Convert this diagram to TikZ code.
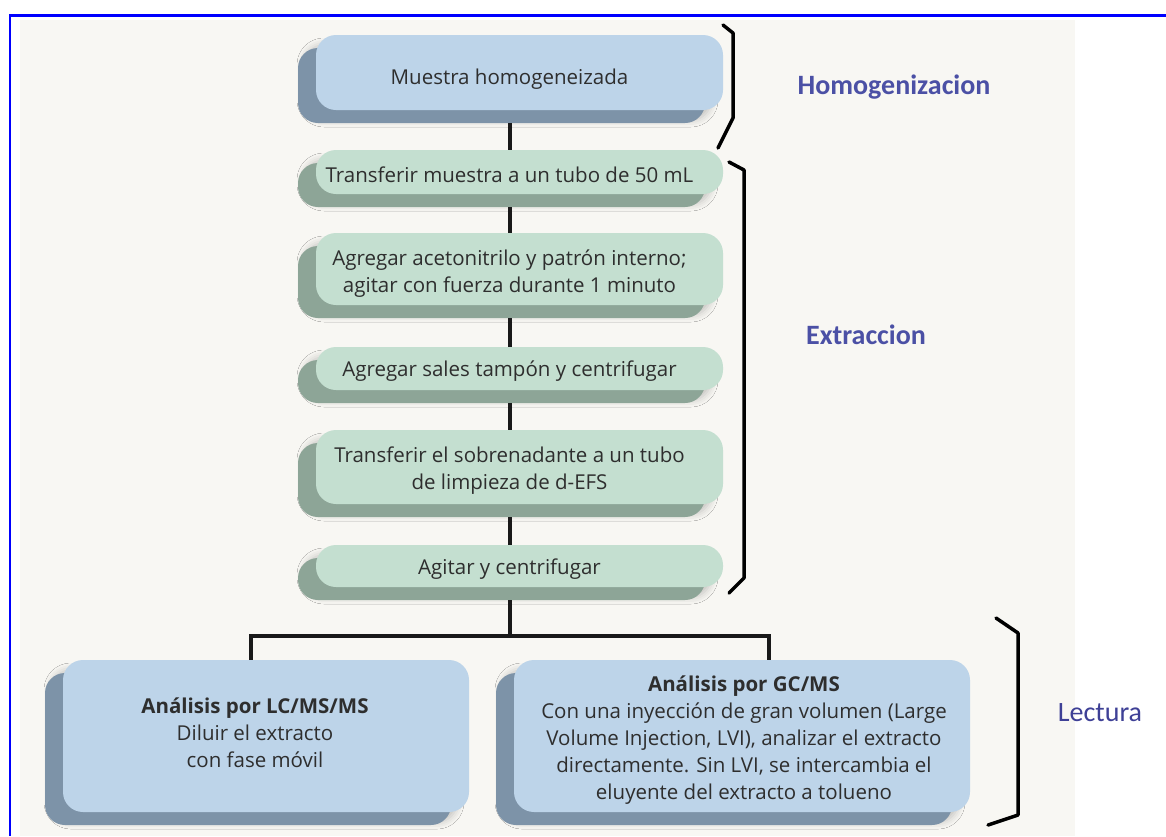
\documentclass[tikz,border=0pt]{standalone}
\usepackage{fontspec}
\setmainfont{Open Sans}
\newfontfamily\labfont{Carlito}
\usetikzlibrary{shadows,shadows.blur}
\definecolor{frameblue}{RGB}{0,0,255}
\definecolor{bgcream}{RGB}{248,247,243}
\definecolor{bluefc}{RGB}{189,212,233}
\definecolor{bluesh}{RGB}{125,147,168}
\definecolor{greenfc}{RGB}{196,223,208}
\definecolor{greensh}{RGB}{141,165,151}
\definecolor{txtgray}{RGB}{46,46,46}
\definecolor{labblue}{RGB}{75,80,165}
\definecolor{labblue2}{RGB}{62,64,150}
\tikzset{
  stepbox/.style={rounded corners=20pt, inner sep=0pt, fill=#1fc, draw=none,
    blur shadow={shadow xshift=-12pt, shadow yshift=-10pt, shadow blur radius=7pt, shadow opacity=22},
    copy shadow={shadow xshift=-18pt, shadow yshift=-13pt, fill=#1sh, draw=none, opacity=1}},
  boxtext/.style={align=center, text=txtgray, font=\fontsize{20.5}{27}\selectfont, inner sep=0pt},
  link/.style={line width=3.5pt, draw=black!90},
  handbrace/.style={line width=3.5pt, draw=black, line join=round, line cap=round},
  phase/.style={text=labblue, font=\labfont\bfseries\fontsize{28}{32}\selectfont, inner sep=0pt}
}
\begin{document}
\begin{tikzpicture}[x=1pt, y=-1pt]
\useasboundingbox (0,0) rectangle (1166,836);
\fill[white] (0,0) rectangle (1166,836);
\fill[bgcream] (20,20) rectangle (1075,836);
\draw[frameblue, line width=2.5pt] (10,836) -- (10,15.5) -- (1166,15.5);

% steps
\node[stepbox=blue,  minimum width=407pt, minimum height=75pt,
  label={[boxtext, name=t1, xshift=-10pt, yshift=-7pt]center:Muestra homogeneizada}] (b1) at (519.5,72.5) {};
\node[stepbox=green, minimum width=407pt, minimum height=44pt,
  label={[boxtext, name=t2, xshift=-10pt, yshift=-2.5pt]center:Transferir muestra a un tubo de 50 mL}] (b2) at (519.5,172) {};
\node[stepbox=green, minimum width=407pt, minimum height=72pt,
  label={[boxtext, name=t3, xshift=-10pt, yshift=-5pt]center:{Agregar acetonitrilo y patrón interno;\\agitar con fuerza durante 1 minuto}}] (b3) at (519.5,269) {};
\node[stepbox=green, minimum width=407pt, minimum height=43pt,
  label={[boxtext, name=t4, xshift=-10pt, yshift=-3pt]center:Agregar sales tampón y centrifugar}] (b4) at (519.5,368.5) {};
\node[stepbox=green, minimum width=407pt, minimum height=74pt,
  label={[boxtext, name=t5, xshift=-10pt, yshift=-4pt]center:{Transferir el sobrenadante a un tubo\\de limpieza de d-EFS}}] (b5) at (519.5,467) {};
\node[stepbox=green, minimum width=407pt, minimum height=42pt,
  label={[boxtext, name=t6, xshift=-10pt, yshift=-3pt]center:Agitar y centrifugar}] (b6) at (519.5,566) {};
\node[stepbox=blue,  minimum width=406pt, minimum height=152pt,
  label={[boxtext, name=t7, xshift=-11pt, yshift=3pt]center:{{\bfseries Análisis por LC/MS/MS}\\Diluir el extracto\\con fase móvil}}] (b7) at (266,736) {};
\node[stepbox=blue,  minimum width=456pt, minimum height=152pt,
  label={[boxtext, name=t8, xshift=2pt, yshift=-4pt]center:{{\bfseries Análisis por GC/MS}\\Con una inyección de gran volumen (Large\\Volume Injection, LVI), analizar el extracto\\directamente. Sin LVI, se intercambia el\\eluyente del extracto a tolueno}}] (b8) at (742,736) {};

% connectors
\coordinate (cx) at (510,0);
\coordinate (c7) at (251,0);
\coordinate (c8) at (769,0);
\coordinate (j) at (510,636);
\draw[link] ([yshift=-13pt]b1.south -| cx) -- (b2.north -| cx);
\draw[link] ([yshift=-13pt]b2.south -| cx) -- (b3.north -| cx);
\draw[link] ([yshift=-13pt]b3.south -| cx) -- (b4.north -| cx);
\draw[link] ([yshift=-13pt]b4.south -| cx) -- (b5.north -| cx);
\draw[link] ([yshift=-13pt]b5.south -| cx) -- (b6.north -| cx);
\draw[link] ([yshift=-13pt]b6.south -| cx) -- (j);
\draw[link] (b7.north -| c7) |- (j) -| (b8.north -| c8);

% braces
\draw[handbrace] (723,25) -- (733,33) -- (733,118) -- (718,148);
\draw[handbrace] (729,162) -- (744,170) -- (744,578) -- (729,593);
\draw[handbrace] (996,618) -- (1018,633) -- (1018,815) -- (988,825);

% phase labels
\node[phase] (ph1) at (894,87) {Homogenizacion};
\node[phase] (ph2) at (866,335) {Extraccion};
\node[phase, text=labblue2, font=\labfont\fontsize{28}{32}\selectfont] (ph3) at (1100,713) {Lectura};
\end{tikzpicture}
\end{document}
